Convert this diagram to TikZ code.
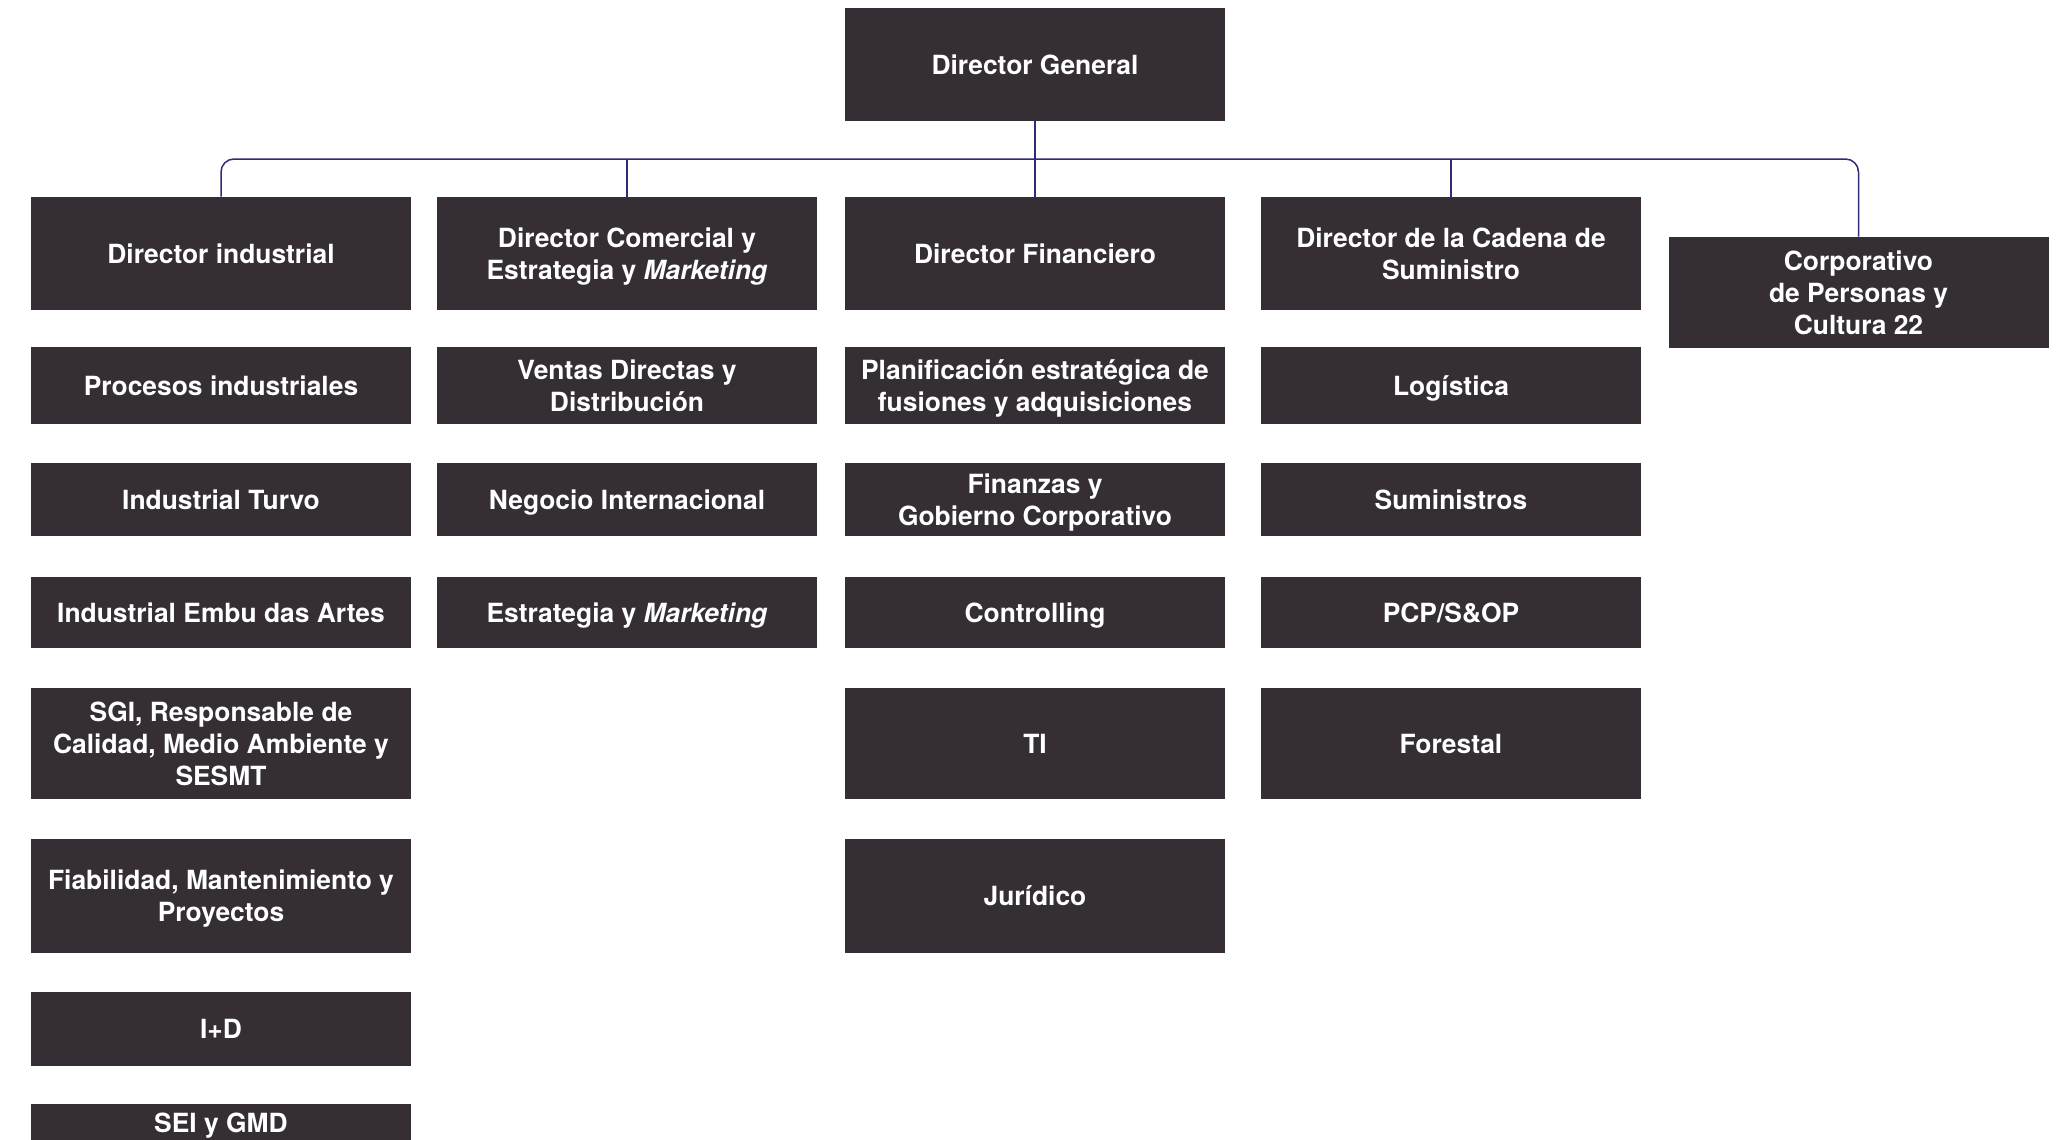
\documentclass[tikz,border=0pt]{standalone}
\usepackage{fontspec}
\setmainfont{TeX Gyre Heros}
\definecolor{boxfill}{HTML}{352F35}
\definecolor{linecol}{HTML}{2E2B78}
\begin{document}
\begin{tikzpicture}[x=0.5pt,y=-0.5pt,
  orgbox/.style={rectangle, fill=boxfill, draw=none, text=white, align=center,
    font=\fontsize{13.2pt}{16pt}\selectfont\bfseries, minimum width=190pt, inner sep=0pt, text depth=0pt},
  conn/.style={draw=linecol, line width=0.75pt}]
\clip (0,0) rectangle (2063,1140);
\fill[white] (0,0) rectangle (2063,1140);
% top
\node[orgbox, minimum height=56.5pt] (dg) at (1035,64.5) {Director General};
% directors
\node[orgbox, minimum height=56.5pt] (ind) at (221,253.5) {Director industrial};
\node[orgbox, minimum height=56.5pt] (com) at (627,253.5) {Director Comercial y\\Estrategia y \textit{Marketing}};
\node[orgbox, minimum height=56.5pt] (fin) at (1035,253.5) {Director Financiero};
\node[orgbox, minimum height=56.5pt] (sc) at (1451,253.5) {Director de la Cadena de\\Suministro};
\node[orgbox, minimum height=55.5pt] (corp) at (1858.5,292.5) {Corporativo\\de Personas y\\Cultura 22};
% column 1
\node[orgbox, minimum height=38.5pt] (c1a) at (221,385.5) {Procesos industriales};
\node[orgbox, minimum height=36.5pt] (c1b) at (221,499.5) {Industrial Turvo};
\node[orgbox, minimum height=35.5pt] (c1c) at (221,612.5) {Industrial Embu das Artes};
\node[orgbox, minimum height=55.5pt] (c1d) at (221,743.5) {SGI, Responsable de\\Calidad, Medio Ambiente y\\SESMT};
\node[orgbox, minimum height=57pt] (c1e) at (221,896) {Fiabilidad, Mantenimiento y\\Proyectos};
\node[orgbox, minimum height=37pt] (c1f) at (221,1029) {I+D};
\node[orgbox, anchor=north, minimum height=0pt, inner ysep=4.25pt, text depth=15pt] (c1g) at (221,1104) {SEI y GMD};
% column 2
\node[orgbox, minimum height=38.5pt] (c2a) at (627,385.5) {Ventas Directas y\\Distribución};
\node[orgbox, minimum height=36.5pt] (c2b) at (627,499.5) {Negocio Internacional};
\node[orgbox, minimum height=35.5pt] (c2c) at (627,612.5) {Estrategia y \textit{Marketing}};
% column 3
\node[orgbox, minimum height=38.5pt] (c3a) at (1035,385.5) {Planificación estratégica de\\fusiones y adquisiciones};
\node[orgbox, minimum height=36.5pt] (c3b) at (1035,499.5) {Finanzas y\\Gobierno Corporativo};
\node[orgbox, minimum height=35.5pt] (c3c) at (1035,612.5) {Controlling};
\node[orgbox, minimum height=55.5pt] (c3d) at (1035,743.5) {TI};
\node[orgbox, minimum height=57pt] (c3e) at (1035,896) {Jurídico};
% column 4
\node[orgbox, minimum height=38.5pt] (c4a) at (1451,385.5) {Logística};
\node[orgbox, minimum height=36.5pt] (c4b) at (1451,499.5) {Suministros};
\node[orgbox, minimum height=35.5pt] (c4c) at (1451,612.5) {PCP/S\&OP};
\node[orgbox, minimum height=55.5pt] (c4d) at (1451,743.5) {Forestal};
% connectors
\coordinate (bus) at (1035,159);
\draw[conn, rounded corners=6.5pt] (ind.north) |- (bus) -| (corp.north);
\draw[conn] (dg.south) -- (fin.north);
\draw[conn] (com.north) -- (com.north |- bus);
\draw[conn] (sc.north) -- (sc.north |- bus);
\end{tikzpicture}
\end{document}
